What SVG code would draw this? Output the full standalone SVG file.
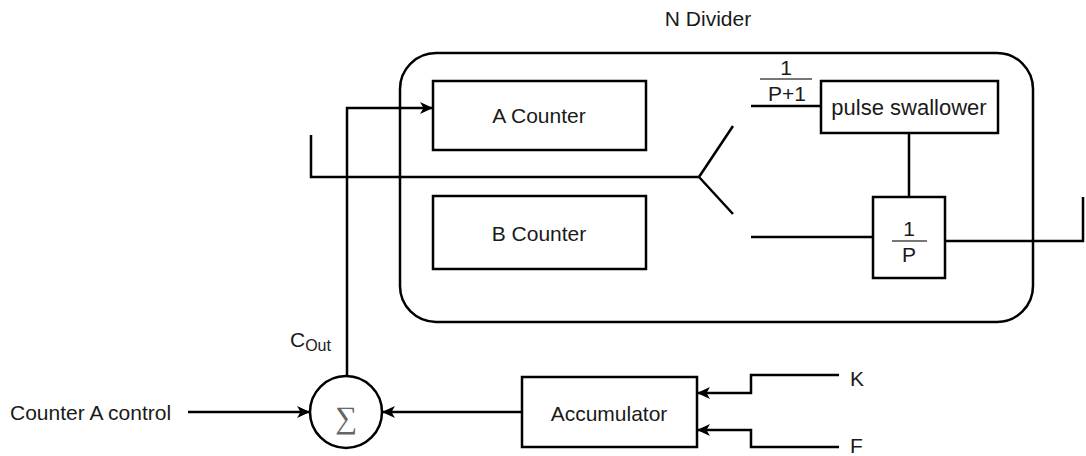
<svg xmlns="http://www.w3.org/2000/svg" width="1086" height="456" viewBox="0 0 1086 456">
<defs>
<style>
.box{fill:#fff;stroke:#000;stroke-width:2.5}
.ln{fill:none;stroke:#000;stroke-width:2.5}
.bar{stroke:#777;stroke-width:2}
.t{font-family:"Liberation Sans",Arial,sans-serif;font-size:21px;fill:#1a1a1a}
.c{text-anchor:middle}
.sub{font-size:16px}
.big{font-size:22px}
</style>
<marker id="arr" markerUnits="userSpaceOnUse" markerWidth="14" markerHeight="12" refX="13" refY="6" orient="auto">
<path d="M0,0 L13,6 L0,12 L3.5,6 z" fill="#000"/>
</marker>
</defs>
<rect width="1086" height="456" fill="#fff"/>
<g id="n-divider">
<rect class="box" x="400" y="53" width="633" height="269" rx="36" ry="36"/>
<text class="t c" x="708" y="26">N Divider</text>
</g>
<g id="connectors">
<path class="ln" d="M311,135 L311,177 L699,177"/>
<path class="ln" d="M733,126 L699,177 L733,214"/>
<path class="ln" d="M751,106 L821,106"/>
<path class="ln" d="M751,237 L873,237"/>
<path class="ln" d="M909,133 L909,197"/>
<path class="ln" d="M945,241 L1083,241 L1083,197"/>
<path class="ln" d="M347,376 L347,108 L433,108" marker-end="url(#arr)"/>
<path class="ln" d="M188,412 L310,412" marker-end="url(#arr)"/>
<path class="ln" d="M522,412 L382,412" marker-end="url(#arr)"/>
<path class="ln" d="M839,375 L751,375 L751,393 L697,393" marker-end="url(#arr)"/>
<path class="ln" d="M839,447 L751,447 L751,430 L697,430" marker-end="url(#arr)"/>
</g>
<g id="a-counter">
<rect class="box" x="433" y="81" width="213" height="69"/>
<text class="t c" x="539" y="123">A Counter</text>
</g>
<g id="b-counter">
<rect class="box" x="433" y="196" width="213" height="73"/>
<text class="t c" x="539" y="241">B Counter</text>
</g>
<g id="pulse-swallower">
<rect class="box" x="821" y="81" width="177" height="52"/>
<text class="t c big" x="909" y="115">pulse swallower</text>
</g>
<g id="frac-p1">
<text class="t c" x="786" y="75">1</text>
<line class="bar" x1="760" y1="79" x2="812" y2="79"/>
<text class="t c" x="787" y="101">P+1</text>
</g>
<g id="div-p">
<rect class="box" x="873" y="197" width="72" height="81"/>
<text class="t c" x="909" y="236">1</text>
<line class="bar" x1="892" y1="241" x2="927" y2="241"/>
<text class="t c" x="909" y="262">P</text>
</g>
<g id="sum">
<circle class="box" cx="346" cy="412" r="36"/>
<text x="346" y="428" text-anchor="middle" font-family="'Liberation Serif',serif" font-size="31" fill="#666">∑</text>
</g>
<g id="cout-label">
<text class="t" x="290" y="347">C<tspan class="sub" dy="4">Out</tspan></text>
</g>
<g id="accumulator">
<rect class="box" x="522" y="377" width="175" height="70"/>
<text class="t c" x="609" y="421">Accumulator</text>
</g>
<g id="labels">
<text class="t" x="10" y="420">Counter A control</text>
<text class="t" x="850" y="386">K</text>
<text class="t" x="850" y="453">F</text>
</g>
</svg>
